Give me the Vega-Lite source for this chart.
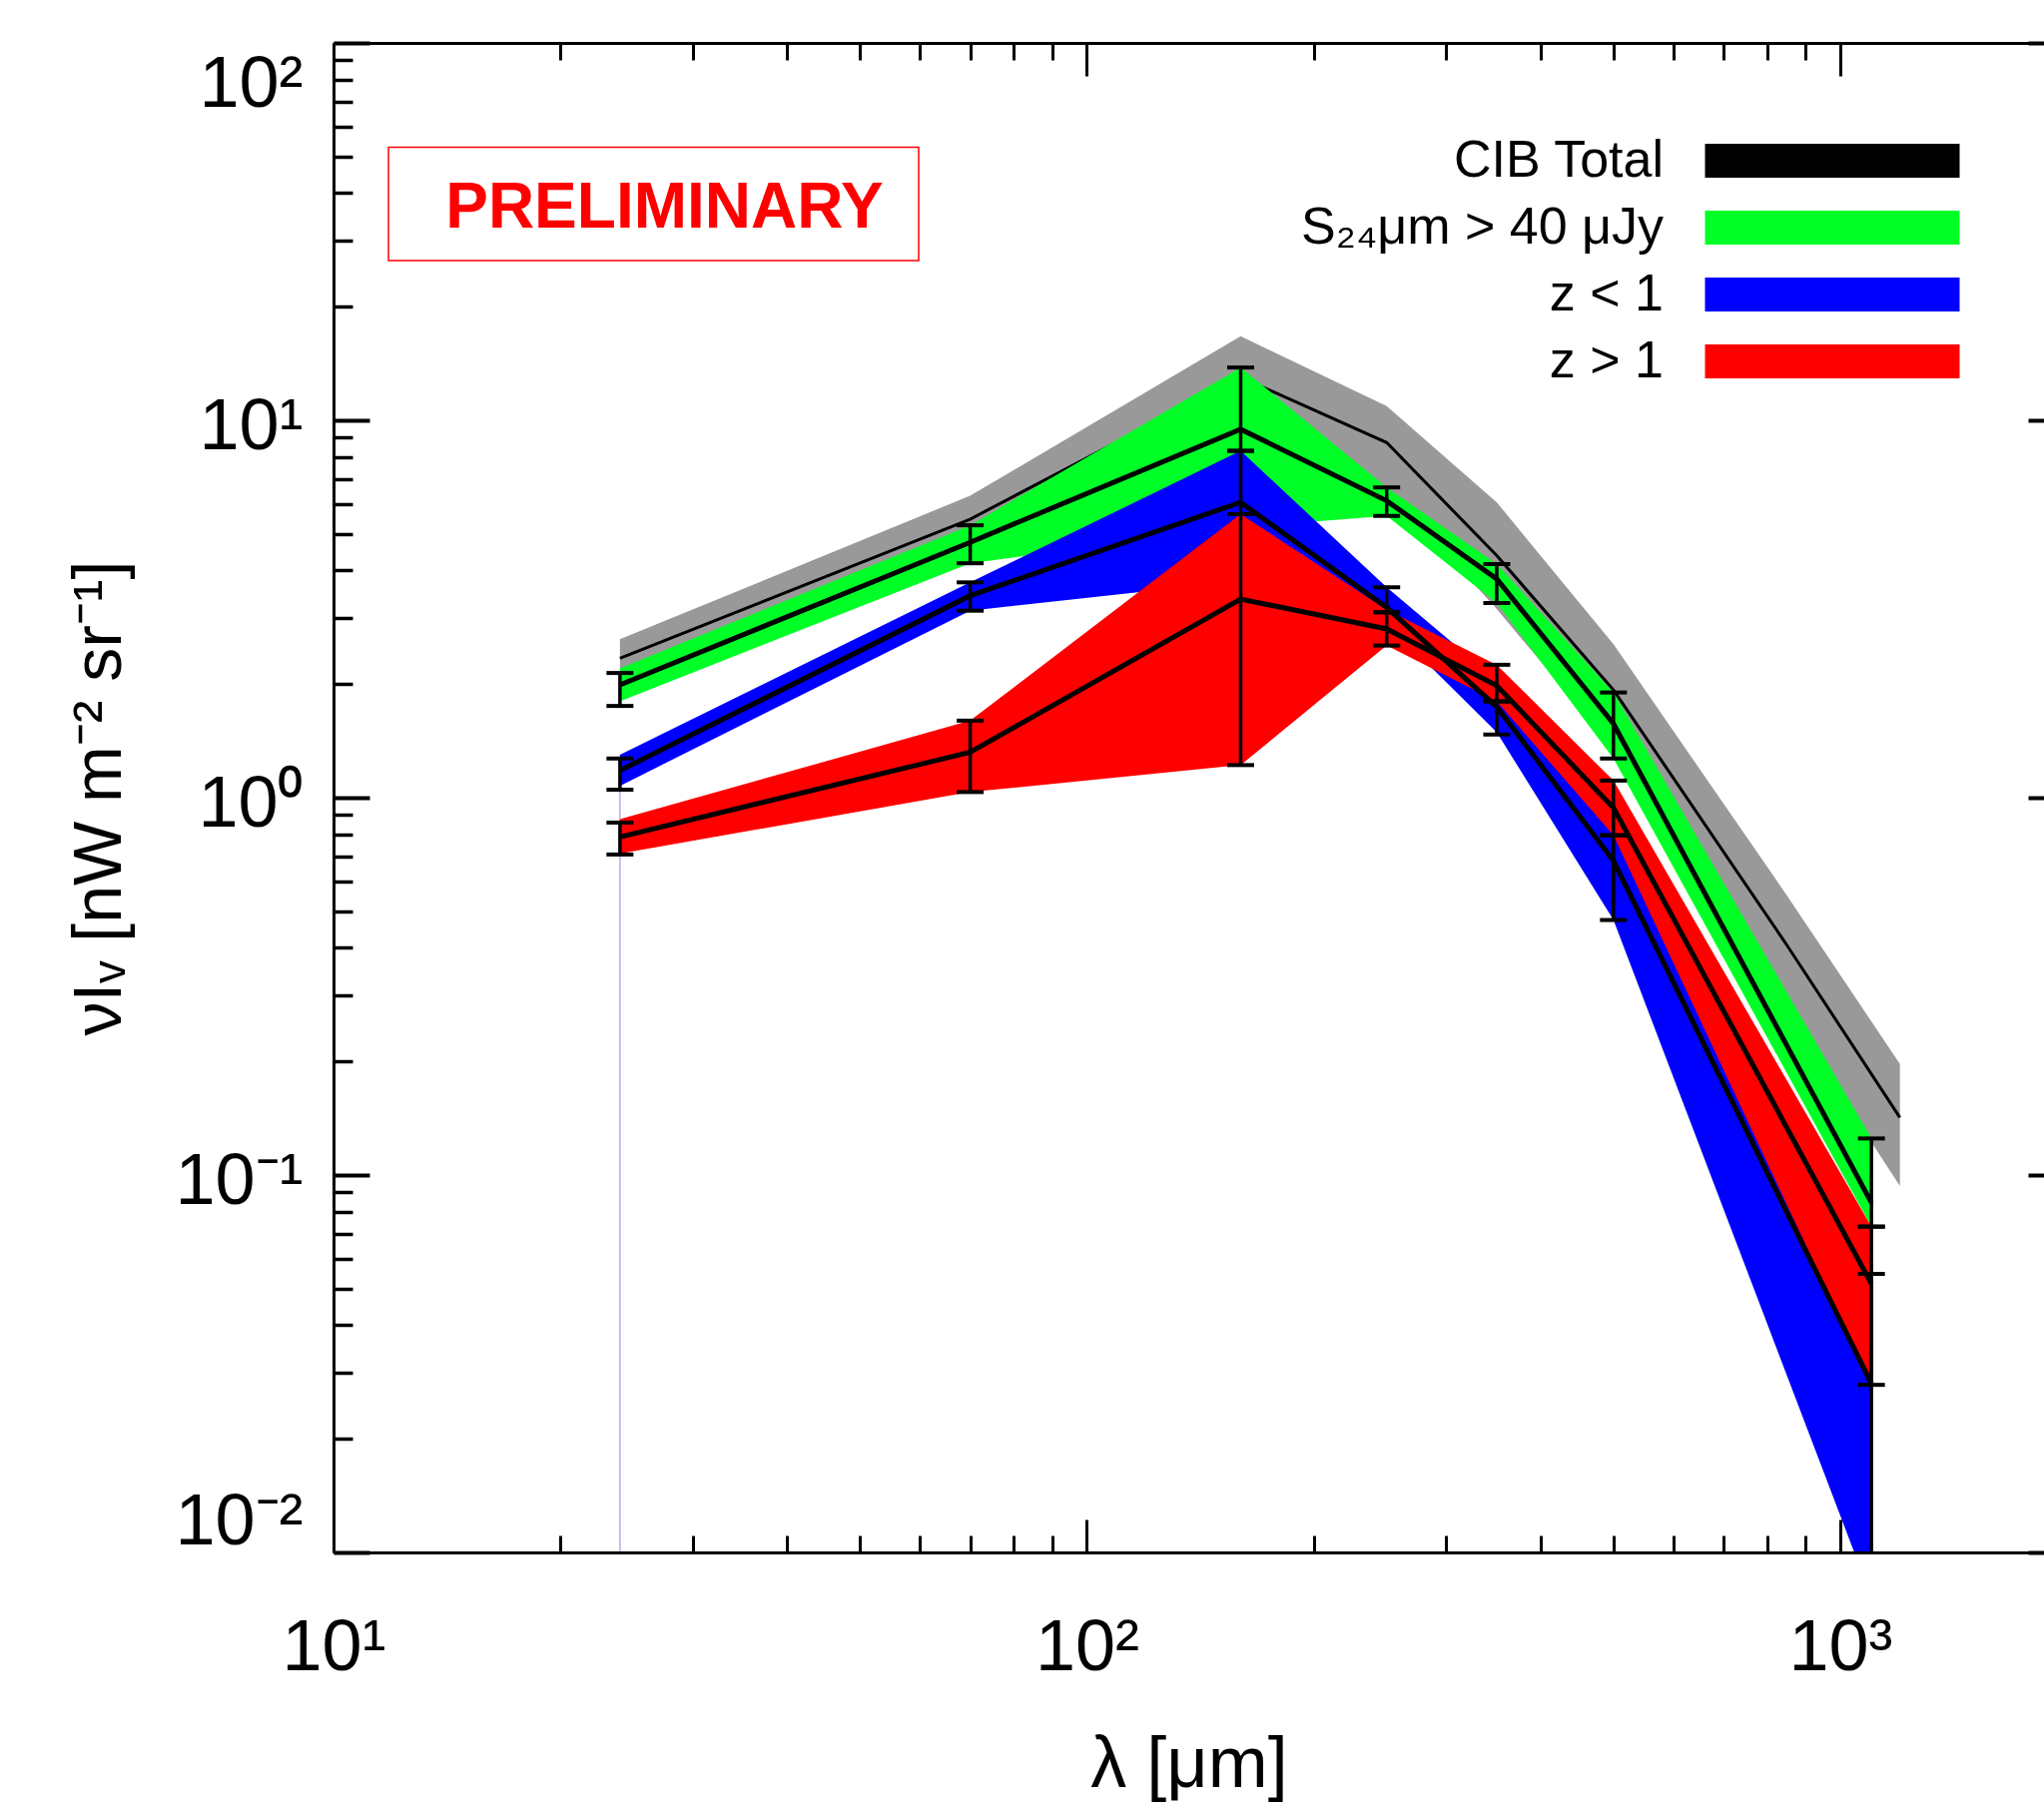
{
  "$schema": "https://vega.github.io/schema/vega-lite/v6.json",
  "width": 1713,
  "height": 1512,
  "autosize": {"type": "none"},
  "padding": {"left": 334, "top": 43, "right": 0, "bottom": 251},
  "background": "white",
  "config": {
    "view": {"stroke": null},
    "font": "Liberation Sans",
    "axis": {"grid": false, "labelFont": "Liberation Sans", "titleFont": "Liberation Sans", "labelColor": "black", "titleColor": "black", "domainColor": "black", "tickColor": "black", "titleFontWeight": "normal"}
  },
  "resolve": {"axis": {"x": "independent", "y": "independent"}},
  "datasets": {
    "sed": [
      {"series": "CIB Total", "lam": 24, "lo": 2.15, "val": 2.34, "hi": 2.63},
      {"series": "CIB Total", "lam": 70, "lo": 4.75, "val": 5.47, "hi": 6.31},
      {"series": "CIB Total", "lam": 160, "lo": 10.2, "val": 13.0, "hi": 16.7},
      {"series": "CIB Total", "lam": 250, "lo": 6.6, "val": 8.73, "hi": 10.9},
      {"series": "CIB Total", "lam": 350, "lo": 3.16, "val": 4.38, "hi": 6.06},
      {"series": "CIB Total", "lam": 500, "lo": 1.35, "val": 1.93, "hi": 2.55},
      {"series": "CIB Total", "lam": 850, "lo": 0.27, "val": 0.406, "hi": 0.55},
      {"series": "CIB Total", "lam": 1200, "lo": 0.0935, "val": 0.142, "hi": 0.197},
      {"series": "S₂₄μm > 40 μJy", "lam": 24, "lo": 1.8, "val": 1.99, "hi": 2.2, "elo": 1.75, "ehi": 2.14},
      {"series": "S₂₄μm > 40 μJy", "lam": 70, "lo": 4.18, "val": 4.75, "hi": 5.27, "elo": 4.18, "ehi": 5.27},
      {"series": "S₂₄μm > 40 μJy", "lam": 160, "lo": 5.21, "val": 9.47, "hi": 13.8, "elo": 8.3, "ehi": 13.8},
      {"series": "S₂₄μm > 40 μJy", "lam": 250, "lo": 5.58, "val": 6.12, "hi": 6.64, "elo": 5.58, "ehi": 6.64},
      {"series": "S₂₄μm > 40 μJy", "lam": 350, "lo": 3.28, "val": 3.8, "hi": 4.16, "elo": 3.28, "ehi": 4.16},
      {"series": "S₂₄μm > 40 μJy", "lam": 500, "lo": 1.27, "val": 1.57, "hi": 1.9, "elo": 1.27, "ehi": 1.9},
      {"series": "S₂₄μm > 40 μJy", "lam": 1100, "lo": 0.073, "val": 0.0845, "hi": 0.125, "elo": 0.073, "ehi": 0.125},
      {"series": "z < 1", "lam": 24, "lo": 1.075, "val": 1.18, "hi": 1.3, "elo": 1.05, "ehi": 1.27},
      {"series": "z < 1", "lam": 70, "lo": 3.13, "val": 3.43, "hi": 3.72, "elo": 3.13, "ehi": 3.72},
      {"series": "z < 1", "lam": 160, "lo": 3.75, "val": 6.06, "hi": 8.3, "elo": 5.64, "ehi": 8.3},
      {"series": "z < 1", "lam": 250, "lo": 2.9, "val": 3.19, "hi": 3.61, "elo": 3.1, "ehi": 3.61},
      {"series": "z < 1", "lam": 350, "lo": 1.49, "val": 1.74, "hi": 2.05, "elo": 1.47, "ehi": 1.8},
      {"series": "z < 1", "lam": 500, "lo": 0.474, "val": 0.68, "hi": 0.85, "elo": 0.474, "ehi": 0.795},
      {"series": "z < 1", "lam": 1100, "lo": 0.0076, "val": 0.028, "hi": 0.04, "elo": 0.005, "ehi": 0.0547},
      {"series": "z > 1", "lam": 24, "lo": 0.711, "val": 0.787, "hi": 0.877, "elo": 0.707, "ehi": 0.859},
      {"series": "z > 1", "lam": 70, "lo": 1.035, "val": 1.32, "hi": 1.6, "elo": 1.035, "ehi": 1.6},
      {"series": "z > 1", "lam": 160, "lo": 1.22, "val": 3.36, "hi": 5.64, "elo": 1.22, "ehi": 5.64},
      {"series": "z > 1", "lam": 250, "lo": 2.53, "val": 2.8, "hi": 3.15, "elo": 2.53, "ehi": 3.1},
      {"series": "z > 1", "lam": 350, "lo": 1.8, "val": 1.98, "hi": 2.25, "elo": 1.8, "ehi": 2.25},
      {"series": "z > 1", "lam": 500, "lo": 0.795, "val": 0.94, "hi": 1.11, "elo": 0.795, "ehi": 1.11},
      {"series": "z > 1", "lam": 1100, "lo": 0.0278, "val": 0.0515, "hi": 0.073, "elo": 0.0278, "ehi": 0.073}
    ],
    "notes": [
      {"note": "PRELIMINARY", "lam_min": 11.83, "lam_max": 59.8, "v_min": 26.5, "v_max": 52.9, "lam_c": 27.5, "v_c": 36.3}
    ],
    "guide": [
      {"lam": 24, "v_from": 0.01, "v_to": 1.05}
    ]
  },
  "layer": [
    {
      "data": {"name": "sed"},
      "transform": [{"filter": "datum.series === 'CIB Total'"}],
      "mark": {"type": "area", "color": "#999999", "clip": true},
      "encoding": {
        "x": {"field": "lam", "type": "quantitative", "scale": {"type": "log", "domain": [10, 1864], "nice": false},
          "axis": {"orient": "bottom", "values": [10, 100, 1000], "labelExpr": "datum.value == 10 ? '10¹' : datum.value == 100 ? '10²' : '10³'", "ticks": false, "domain": true, "domainWidth": 3, "labelFontSize": 72, "labelPadding": 60, "labelFlush": false, "labelOverlap": false, "title": "λ [μm]", "titleFontSize": 72, "titlePadding": 46, "zindex": 1}},
        "y": {"field": "lo", "type": "quantitative", "scale": {"type": "log", "domain": [0.01, 100], "nice": false},
          "axis": {"orient": "left", "values": [0.01, 0.1, 1, 10, 100], "labelExpr": "datum.value == 100 ? '10²' : datum.value == 10 ? '10¹' : datum.value == 1 ? '10⁰' : datum.value == 0.1 ? '10⁻¹' : '10⁻²'", "ticks": false, "domain": true, "domainWidth": 3, "labelFontSize": 72, "labelPadding": 31, "labelFlush": true, "labelOffset": 6, "labelOverlap": false, "title": "νIᵥ [nW m⁻² sr⁻¹]", "titleFontSize": 68, "titlePadding": 40, "zindex": 1}},
        "y2": {"field": "hi"}
      }
    },
    {
      "data": {"name": "sed"},
      "transform": [{"filter": "datum.series === 'CIB Total'"}],
      "mark": {"type": "line", "color": "black", "strokeWidth": 3, "clip": true},
      "encoding": {
        "x": {"field": "lam", "type": "quantitative",
          "axis": {"orient": "bottom", "values": [10, 100, 1000], "labels": false, "domain": false, "ticks": true, "tickSize": -33, "tickWidth": 3, "title": null, "zindex": 1}},
        "y": {"field": "val", "type": "quantitative",
          "axis": {"orient": "left", "values": [0.01, 0.1, 1, 10, 100], "labels": false, "domain": false, "ticks": true, "tickSize": -36, "tickWidth": 4, "title": null, "zindex": 1}}
      }
    },
    {
      "data": {"name": "sed"},
      "transform": [{"filter": "datum.series === 'S₂₄μm > 40 μJy'"}],
      "mark": {"type": "area", "opacity": 1, "clip": true},
      "encoding": {
        "x": {"field": "lam", "type": "quantitative",
          "axis": {"orient": "bottom", "values": [20, 30, 40, 50, 60, 70, 80, 90, 200, 300, 400, 500, 600, 700, 800, 900], "labels": false, "domain": false, "ticks": true, "tickSize": -17, "tickWidth": 3, "title": null, "zindex": 1}},
        "y": {"field": "lo", "type": "quantitative",
          "axis": {"orient": "left", "values": [0.02, 0.03, 0.04, 0.05, 0.06, 0.07, 0.08, 0.09, 0.2, 0.3, 0.4, 0.5, 0.6, 0.7, 0.8, 0.9, 2, 3, 4, 5, 6, 7, 8, 9, 20, 30, 40, 50, 60, 70, 80, 90], "labels": false, "domain": false, "ticks": true, "tickSize": -19, "tickWidth": 3.5, "title": null, "zindex": 1}},
        "y2": {"field": "hi"},
        "color": {"field": "series", "type": "nominal",
          "scale": {"domain": ["CIB Total", "S₂₄μm > 40 μJy", "z < 1", "z > 1"], "range": ["#000000", "#00ff26", "#0000ff", "#ff0000"]},
          "legend": {"title": null, "orient": "none", "legendX": 1475, "legendY": 92, "direction": "vertical", "symbolType": "M-7.5,-1H7.5V1H-7.5Z", "symbolSize": 1156, "symbolStrokeWidth": 0, "symbolOpacity": 1, "labelFontSize": 52, "labelFont": "Liberation Sans", "labelColor": "black", "labelAlign": "right", "labelOffset": -195, "labelLimit": 2000, "rowPadding": 15, "padding": 0}}
      }
    },
    {
      "data": {"name": "sed"},
      "transform": [{"filter": "datum.series === 'z < 1'"}],
      "mark": {"type": "area", "opacity": 1, "clip": true},
      "encoding": {
        "x": {"field": "lam", "type": "quantitative",
          "axis": {"orient": "top", "values": [10, 100, 1000], "labels": false, "domain": true, "domainWidth": 3, "ticks": true, "tickSize": -33, "tickWidth": 3, "title": null, "zindex": 1}},
        "y": {"field": "lo", "type": "quantitative",
          "axis": {"orient": "right", "values": [0.01, 0.1, 1, 10, 100], "labels": false, "domain": false, "ticks": true, "tickSize": -16, "tickWidth": 4, "title": null, "zindex": 1}},
        "y2": {"field": "hi"},
        "color": {"field": "series", "type": "nominal"}
      }
    },
    {
      "data": {"name": "guide"},
      "mark": {"type": "rule", "color": "#aab0ff", "strokeWidth": 1.5, "clip": true},
      "encoding": {
        "x": {"field": "lam", "type": "quantitative", "axis": null},
        "y": {"field": "v_from", "type": "quantitative", "axis": null},
        "y2": {"field": "v_to"}
      }
    },
    {
      "data": {"name": "sed"},
      "transform": [{"filter": "datum.series === 'z > 1'"}],
      "mark": {"type": "area", "opacity": 1, "clip": true},
      "encoding": {
        "x": {"field": "lam", "type": "quantitative",
          "axis": {"orient": "top", "values": [20, 30, 40, 50, 60, 70, 80, 90, 200, 300, 400, 500, 600, 700, 800, 900], "labels": false, "domain": false, "ticks": true, "tickSize": -17, "tickWidth": 3, "title": null, "zindex": 1}},
        "y": {"field": "lo", "type": "quantitative", "axis": null},
        "y2": {"field": "hi"},
        "color": {"field": "series", "type": "nominal"}
      }
    },
    {
      "data": {"name": "sed"},
      "transform": [{"filter": "datum.series !== 'CIB Total'"}],
      "mark": {"type": "line", "color": "black", "strokeWidth": 5, "clip": true},
      "encoding": {
        "x": {"field": "lam", "type": "quantitative", "axis": null},
        "y": {"field": "val", "type": "quantitative", "axis": null},
        "detail": {"field": "series", "type": "nominal"}
      }
    },
    {
      "data": {"name": "sed"},
      "transform": [{"filter": "datum.series !== 'CIB Total'"}],
      "mark": {"type": "rule", "color": "black", "strokeWidth": 3.5, "clip": true},
      "encoding": {
        "x": {"field": "lam", "type": "quantitative", "axis": null},
        "y": {"field": "elo", "type": "quantitative", "axis": null},
        "y2": {"field": "ehi"}
      }
    },
    {
      "data": {"name": "sed"},
      "transform": [{"filter": "datum.series !== 'CIB Total'"}],
      "mark": {"type": "tick", "orient": "horizontal", "size": 27, "thickness": 4, "color": "black", "opacity": 1, "clip": true},
      "encoding": {
        "x": {"field": "lam", "type": "quantitative", "axis": null},
        "y": {"field": "elo", "type": "quantitative", "axis": null}
      }
    },
    {
      "data": {"name": "sed"},
      "transform": [{"filter": "datum.series !== 'CIB Total'"}],
      "mark": {"type": "tick", "orient": "horizontal", "size": 27, "thickness": 4, "color": "black", "opacity": 1, "clip": true},
      "encoding": {
        "x": {"field": "lam", "type": "quantitative", "axis": null},
        "y": {"field": "ehi", "type": "quantitative", "axis": null}
      }
    },
    {
      "data": {"name": "notes"},
      "mark": {"type": "rect", "fill": "transparent", "stroke": "#ff0000", "strokeWidth": 1.5},
      "encoding": {
        "x": {"field": "lam_min", "type": "quantitative", "axis": null},
        "x2": {"field": "lam_max"},
        "y": {"field": "v_min", "type": "quantitative", "axis": null},
        "y2": {"field": "v_max"}
      }
    },
    {
      "data": {"name": "notes"},
      "mark": {"type": "text", "font": "Liberation Sans", "fontSize": 64, "fontWeight": "bold", "color": "#ff0000", "align": "center", "baseline": "middle"},
      "encoding": {
        "x": {"field": "lam_c", "type": "quantitative", "axis": null},
        "y": {"field": "v_c", "type": "quantitative", "axis": null},
        "text": {"field": "note", "type": "nominal"}
      }
    }
  ]
}
